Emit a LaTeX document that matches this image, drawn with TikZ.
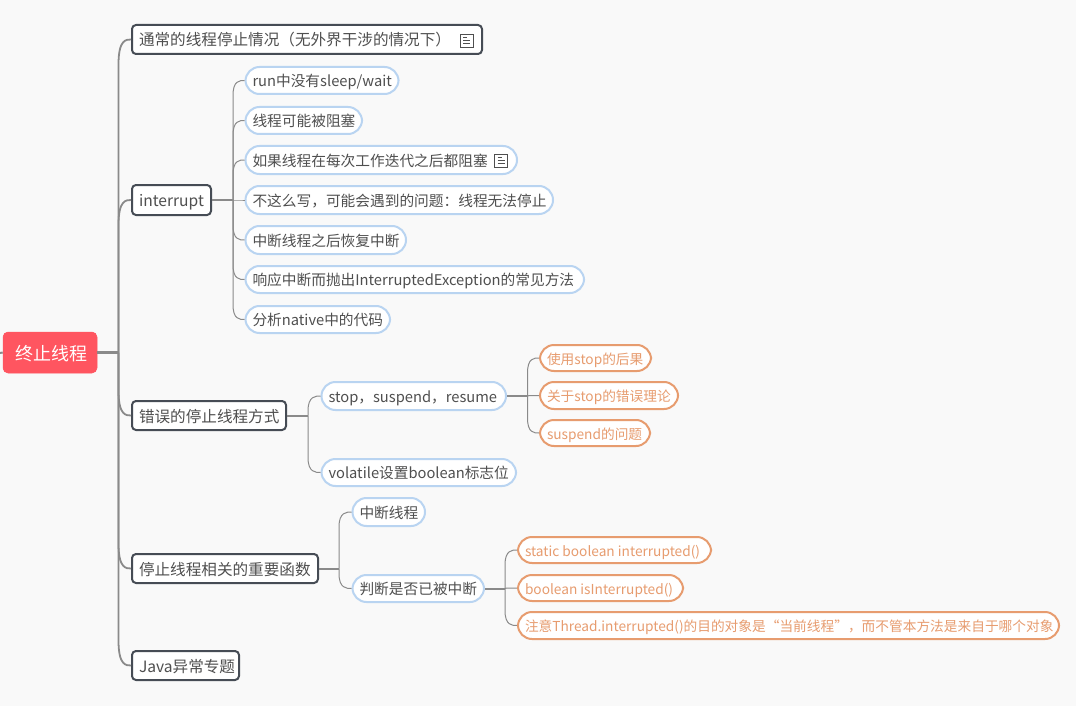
\documentclass[tikz,border=0pt]{standalone}
\usepackage{fontspec}
\setmainfont{Noto Sans CJK SC}
\usetikzlibrary{calc}
\definecolor{bgc}{HTML}{F9F9F9}
\definecolor{rootc}{HTML}{FF5560}
\definecolor{darkc}{HTML}{464C55}
\definecolor{textc}{HTML}{4F4F4F}
\definecolor{bluec}{HTML}{B9D4F1}
\definecolor{orangec}{HTML}{E79C6F}
\definecolor{linec}{HTML}{8A8A8A}
\tikzset{
  rootbox/.style={fill=rootc,draw=rootc,line width=0.5pt,rounded corners=5pt,text=white,inner xsep=0pt,inner ysep=0pt,text height=16pt,text depth=1pt,font=\fontsize{18}{20}\selectfont},
  topic/.style={fill=white,draw=darkc,line width=2pt,rounded corners=4pt,text=textc,inner xsep=0pt,inner ysep=0pt,text height=14pt,text depth=1pt,font=\fontsize{15.6}{18}\selectfont},
  sub/.style={fill=white,draw=bluec,line width=2pt,rounded corners=14pt,text=textc,inner xsep=0pt,inner ysep=0pt,text height=13pt,text depth=1pt,font=\fontsize{14.7}{17}\selectfont},
  leaf/.style={fill=white,draw=orangec,line width=2pt,rounded corners=14pt,text=orangec,inner xsep=0pt,inner ysep=0pt,text height=12.5pt,text depth=0.5pt,font=\fontsize{13.7}{16}\selectfont},
  stub/.style={draw=linec,line width=2pt},
  thick stub/.style={draw=linec,line width=3pt},
  bigcurve/.style={draw=linec,line width=1.8pt},
  thincurve/.style={draw=linec,line width=1pt},
  noteicon/.style={draw=textc,line width=0.9pt}
}
% name, style, x1, y1, x2, y2, text
\newcommand\mmnode[7]{%
  \pgfmathsetmacro\mw{#5-#3-2}\pgfmathsetmacro\mh{#6-#4-2}%
  \node[#2,minimum width=\mw pt,minimum height=\mh pt] (#1) at ({(#3+#5)/2},{(#4+#6)/2}) {\hbox to \mw pt{\hskip 7pt #7\hss}};}
% style, from, to, trunk x, radius
\newcommand\mmlink[5]{%
  \draw[#1] let \p1=(#2.east),\p2=(#3.west),\n1={min(#5,abs(\y1-\y2))},\n2={\y2+\n1*sign(\y1-\y2)} in
    (#4pt,\y1) -- (#4pt,\n2) .. controls (#4pt,\y2) and (\x2-5pt,\y2) .. (\p2);}
\newcommand\mmstub[3]{%
  \draw[#1] let \p1=(#2.east) in (\p1) -- (#3pt,\y1);}
\newcommand\mmicon[2]{%
  \draw[noteicon] (#1,#2) rectangle ++(13,13);
  \draw[noteicon] (#1+3,#2+3.5) -- ++(4,0) (#1+3,#2+6.5) -- ++(7,0) (#1+3,#2+9.5) -- ++(7,0);}
\begin{document}
\begin{tikzpicture}[x=1pt,y=-1pt]
\useasboundingbox (0,0) rectangle (1076,706);
\fill[bgc] (0,0) rectangle (1076,706);
% nodes
\mmnode{root}{rootbox}{2}{331}{98}{374}{\hskip 5pt 终止线程}
\mmnode{a}{topic}{131}{24}{483}{55}{通常的线程停止情况（无外界干涉的情况下）}
\mmnode{b}{topic}{131}{184}{212}{216}{interrupt}
\mmnode{c}{topic}{131}{400}{287}{431}{错误的停止线程方式}
\mmnode{d}{topic}{131}{553}{319}{584}{停止线程相关的重要函数}
\mmnode{e}{topic}{131}{650}{240}{681}{Java异常专题}
\mmnode{b1}{sub}{244.5}{66}{399.5}{95}{run中没有sleep/wait}
\mmnode{b2}{sub}{244.5}{106}{363}{135}{线程可能被阻塞}
\mmnode{b3}{sub}{244.5}{145}{518}{175}{如果线程在每次工作迭代之后都阻塞}
\mmnode{b4}{sub}{244.5}{185}{554}{215}{不这么写，可能会遇到的问题：线程无法停止}
\mmnode{b5}{sub}{244.5}{225}{407}{255}{中断线程之后恢复中断}
\mmnode{b6}{sub}{244.5}{265}{585}{294}{响应中断而抛出InterruptedException的常见方法}
\mmnode{b7}{sub}{244.5}{305}{391}{334}{分析native中的代码}
\mmnode{c1}{sub}{320.5}{381}{507}{411}{stop，suspend，resume}
\mmnode{c2}{sub}{320.5}{458}{517}{487}{volatile设置boolean标志位}
\mmnode{d1}{sub}{351.5}{497}{426}{527}{中断线程}
\mmnode{d2}{sub}{351.5}{574}{485}{603}{判断是否已被中断}
\mmnode{c11}{leaf}{539}{344}{652}{372}{使用stop的后果}
\mmnode{c12}{leaf}{539}{381}{679}{410}{关于stop的错误理论}
\mmnode{c13}{leaf}{539}{419}{651}{447}{suspend的问题}
\mmnode{d21}{leaf}{517}{536}{712}{564}{static boolean interrupted()}
\mmnode{d22}{leaf}{517}{574}{684}{602}{boolean isInterrupted()}
\mmnode{d23}{leaf}{517}{611}{1060}{640}{注意Thread.interrupted()的目的对象是“当前线程”，而不管本方法是来自于哪个对象}
% note icons
\mmicon{460}{34}
\mmicon{494.5}{154}
% connectors
\coordinate (edge) at (0,353);
\draw[stub] (edge) -- (root.west);
\foreach \t in {a,b,c,d,e}{\mmlink{bigcurve}{root}{\t}{118.5}{25}}
\mmstub{thick stub}{root}{118.5}
\foreach \t in {b1,b2,b3,b4,b5,b6,b7}{\mmlink{thincurve}{b}{\t}{233}{15}}
\mmstub{stub}{b}{233}
\foreach \t in {c1,c2}{\mmlink{thincurve}{c}{\t}{308}{15}}
\mmstub{stub}{c}{308}
\foreach \t in {d1,d2}{\mmlink{thincurve}{d}{\t}{339}{15}}
\mmstub{stub}{d}{339}
\foreach \t in {c11,c12,c13}{\mmlink{thincurve}{c1}{\t}{527.5}{15}}
\mmstub{stub}{c1}{527.5}
\foreach \t in {d21,d22,d23}{\mmlink{thincurve}{d2}{\t}{505}{15}}
\mmstub{stub}{d2}{505}
\end{tikzpicture}
\end{document}
